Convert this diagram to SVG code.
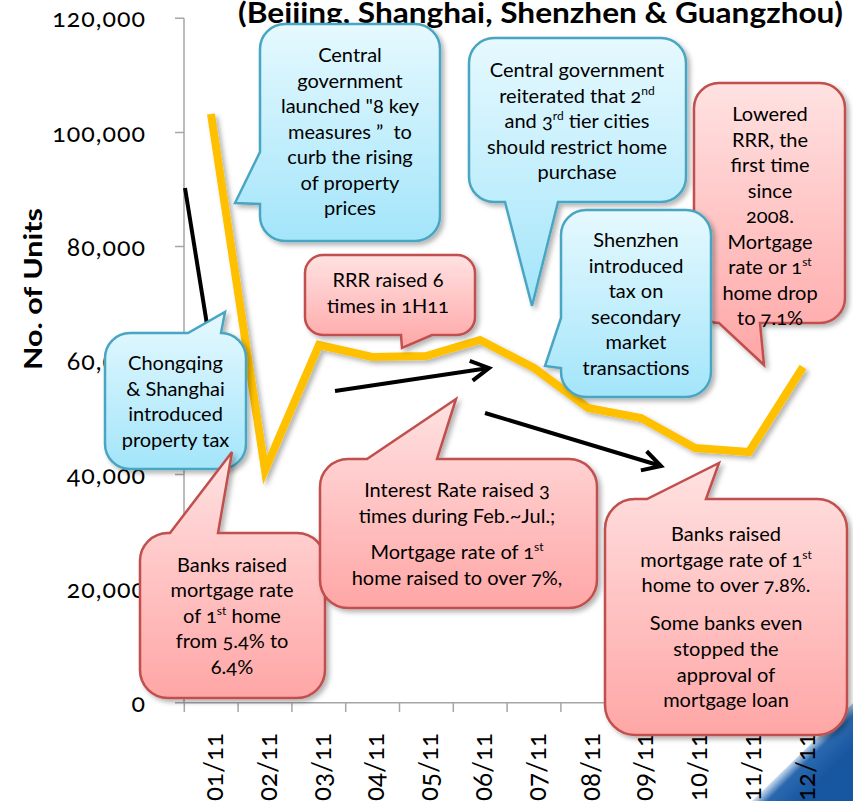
<svg xmlns="http://www.w3.org/2000/svg" width="853" height="801" viewBox="0 0 853 801">
<defs>
<style>
.ax{font-family:Lato,"Open Sans","Liberation Sans",sans-serif;font-size:25px;fill:#000;font-variant-numeric:oldstyle-nums;}
.ay{text-anchor:end;letter-spacing:1px;}
.xl{font-size:26px;}
.co{font-family:Lato,"Open Sans","Liberation Sans",sans-serif;font-size:20px;fill:#000;text-anchor:middle;font-variant-numeric:oldstyle-nums;}
.sup{font-size:12px;}
.blue{fill:url(#gb);stroke:#4AA6C3;stroke-width:2.5;filter:url(#sh);}
.red{fill:url(#gr);stroke:#C0504D;stroke-width:2.5;filter:url(#sh);}
.axis{stroke:#A6A6A6;stroke-width:1.5;fill:none;}
.arrow{stroke:#000;stroke-width:4;fill:none;marker-end:url(#ah);}
</style>
<linearGradient id="gb" x1="0" y1="0" x2="0" y2="1">
<stop offset="0" stop-color="#E6F9FE"/><stop offset="1" stop-color="#A3E5FA"/>
</linearGradient>
<linearGradient id="gr" x1="0" y1="0" x2="0" y2="1">
<stop offset="0" stop-color="#FFE2E2"/><stop offset="1" stop-color="#FFA6A6"/>
</linearGradient>
<linearGradient id="gt" gradientUnits="userSpaceOnUse" x1="802" y1="752" x2="826" y2="776">
<stop offset="0" stop-color="#C9DAEE"/><stop offset="0.3" stop-color="#2A68AE"/><stop offset="1" stop-color="#1756A0"/>
</linearGradient>
<filter id="sh" x="-10%" y="-10%" width="130%" height="130%">
<feDropShadow dx="3" dy="3" stdDeviation="2.5" flood-color="#000" flood-opacity="0.3"/>
</filter>
<marker id="ah" markerUnits="userSpaceOnUse" viewBox="-22 -14 26 28" refX="0" refY="0" markerWidth="26" markerHeight="28" orient="auto">
<path d="M-18,-10 L0,0 L-18,10" fill="none" stroke="#000" stroke-width="4"/>
</marker>
</defs>

<g id="corner">
<polygon points="752,801 853,703 853,801" fill="url(#gt)"/>
</g>

<g id="title">
<text x="238" y="23" font-family="Lato,'Open Sans','Liberation Sans',sans-serif" font-size="28" font-weight="bold" textLength="605" lengthAdjust="spacingAndGlyphs">(Beijing, Shanghai, Shenzhen &amp; Guangzhou)</text>
</g>

<g id="axes">
<path class="axis" d="M184,18.3 V702.7 H830"/>
<path class="axis" d="M175,18.3 H184 M175,132.4 H184 M175,246.5 H184 M175,360.5 H184 M175,474.6 H184 M175,588.7 H184 M175,702.7 H184"/>
<path class="axis" d="M184.3,702.7 V712 M238.1,702.7 V712 M291.9,702.7 V712 M345.7,702.7 V712 M399.5,702.7 V712 M453.3,702.7 V712 M507.1,702.7 V712 M560.9,702.7 V712 M614.7,702.7 V712 M668.5,702.7 V712 M722.3,702.7 V712 M776.1,702.7 V712 M829.9,702.7 V712"/>
<g class="ax ay">
<text x="146" y="27">120,000</text>
<text x="146" y="141.5">100,000</text>
<text x="146" y="255.5">80,000</text>
<text x="146" y="369.5">60,000</text>
<text x="146" y="483.5">40,000</text>
<text x="146" y="597.5">20,000</text>
<text x="146" y="712">0</text>
</g>
<text class="ax" transform="translate(42,289) rotate(-90)" text-anchor="middle" font-weight="bold" font-size="30" textLength="162" lengthAdjust="spacingAndGlyphs">No. of Units</text>
<g class="ax xl" text-anchor="end">
<text transform="translate(223,733) rotate(-90)">01/11</text>
<text transform="translate(276.8,733) rotate(-90)">02/11</text>
<text transform="translate(330.6,733) rotate(-90)">03/11</text>
<text transform="translate(384.4,733) rotate(-90)">04/11</text>
<text transform="translate(438.2,733) rotate(-90)">05/11</text>
<text transform="translate(492,733) rotate(-90)">06/11</text>
<text transform="translate(545.8,733) rotate(-90)">07/11</text>
<text transform="translate(599.6,733) rotate(-90)">08/11</text>
<text transform="translate(653.4,733) rotate(-90)">09/11</text>
<text transform="translate(707.2,733) rotate(-90)">10/11</text>
<text transform="translate(761,733) rotate(-90)">11/11</text>
<text transform="translate(814.8,733) rotate(-90)">12/11</text>
</g>
</g>

<g id="series">
<polyline points="185,188 214,368" fill="none" stroke="#000" stroke-width="4"/>
<polyline points="211,114 265,470 319,345 372,357 426,356 480,340 534,368 588,408 641,418 695,448 749,452 803,367" fill="none" stroke="#FFC000" stroke-width="8" stroke-linejoin="miter" filter="url(#sh)"/>
</g>

<g id="connectors">
<line class="arrow" x1="335" y1="391" x2="489" y2="368"/>
<line class="arrow" x1="485" y1="413" x2="661" y2="466"/>
</g>

<g id="c1">
<path class="blue" d="M285,24 H415 A25,25 0 0 1 440,49 V216 A25,25 0 0 1 415,241 H285 A25,25 0 0 1 260,216 V204 L235,203 L260,152 V49 A25,25 0 0 1 285,24 Z"/>
<text class="co" x="350" y="62">Central</text>
<text class="co" x="350" y="87.5">government</text>
<text class="co" x="350" y="113">launched "8 key</text>
<text class="co" x="350" y="138.5">measures ”&#160; to</text>
<text class="co" x="350" y="164">curb the rising</text>
<text class="co" x="350" y="189.5">of property</text>
<text class="co" x="350" y="215">prices</text>
</g>

<g id="c2">
<path class="blue" d="M494,38 H661 A25,25 0 0 1 686,63 V177 A25,25 0 0 1 661,202 H558 L532,306 L505,202 H494 A25,25 0 0 1 469,177 V63 A25,25 0 0 1 494,38 Z"/>
<text class="co" x="577" y="77">Central government</text>
<text class="co" x="577" y="102.5">reiterated that 2<tspan class="sup" dy="-8">nd</tspan></text>
<text class="co" x="577" y="128">and 3<tspan class="sup" dy="-8">rd</tspan><tspan dy="8"> tier cities</tspan></text>
<text class="co" x="577" y="153.5">should restrict home</text>
<text class="co" x="577" y="179">purchase</text>
</g>

<g id="c3">
<path class="red" d="M719,83 H820 A25,25 0 0 1 845,108 V298 A25,25 0 0 1 820,323 H760 L764,365 L719,323 A25,25 0 0 1 694,298 V108 A25,25 0 0 1 719,83 Z"/>
<text class="co" x="770" y="121">Lowered</text>
<text class="co" x="770" y="146.5">RRR, the</text>
<text class="co" x="770" y="172">first time</text>
<text class="co" x="770" y="197.5">since</text>
<text class="co" x="770" y="223">2008.</text>
<text class="co" x="770" y="248.5">Mortgage</text>
<text class="co" x="770" y="274">rate or 1<tspan class="sup" dy="-8">st</tspan></text>
<text class="co" x="770" y="299.5">home drop</text>
<text class="co" x="770" y="325">to 7.1%</text>
</g>

<g id="c4">
<path class="blue" d="M586,210 H686 A25,25 0 0 1 711,235 V372 A25,25 0 0 1 686,397 H586 A25,25 0 0 1 561,372 V368 L545,366 L561,318 V235 A25,25 0 0 1 586,210 Z"/>
<text class="co" x="636" y="247">Shenzhen</text>
<text class="co" x="636" y="272.5">introduced</text>
<text class="co" x="636" y="298">tax on</text>
<text class="co" x="636" y="323.5">secondary</text>
<text class="co" x="636" y="349">market</text>
<text class="co" x="636" y="374.5">transactions</text>
</g>

<g id="c5">
<path class="red" d="M323,255 H457 A18,18 0 0 1 475,273 V317 A18,18 0 0 1 457,335 H432 L402,348 L401,335 H323 A18,18 0 0 1 305,317 V273 A18,18 0 0 1 323,255 Z"/>
<text class="co" x="388" y="287">RRR raised 6</text>
<text class="co" x="388" y="313">times in 1H11</text>
</g>

<g id="c6">
<path class="blue" d="M130,333 H188 L225,312 L221,333 A25,25 0 0 1 246,358 V444 A25,25 0 0 1 221,469 H130 A25,25 0 0 1 105,444 V358 A25,25 0 0 1 130,333 Z"/>
<text class="co" x="175.5" y="370">Chongqing</text>
<text class="co" x="175.5" y="395.5">&amp; Shanghai</text>
<text class="co" x="175.5" y="421">introduced</text>
<text class="co" x="175.5" y="446.5">property tax</text>
</g>

<g id="c8">
<path class="red" d="M168,533 H170 L232,452 L218,533 H297 A28,28 0 0 1 325,561 V670 A28,28 0 0 1 297,698 H168 A28,28 0 0 1 140,670 V561 A28,28 0 0 1 168,533 Z"/>
<text class="co" x="232" y="572">Banks raised</text>
<text class="co" x="232" y="597">mortgage rate</text>
<text class="co" x="232" y="622.5">of 1<tspan class="sup" dy="-8">st</tspan><tspan dy="8"> home</tspan></text>
<text class="co" x="232" y="648">from 5.4% to</text>
<text class="co" x="232" y="673.5">6.4%</text>
</g>

<g id="c7">
<path class="red" d="M348,459 H367 L456,399 L437,459 H569 A28,28 0 0 1 597,487 V580 A28,28 0 0 1 569,608 H348 A28,28 0 0 1 320,580 V487 A28,28 0 0 1 348,459 Z"/>
<text class="co" x="457" y="497">Interest Rate raised 3</text>
<text class="co" x="457" y="522.5">times during Feb.~Jul.;</text>
<text class="co" x="457" y="559">Mortgage rate of 1<tspan class="sup" dy="-8">st</tspan></text>
<text class="co" x="457" y="584.5">home raised to over 7%,</text>
</g>

<g id="c9">
<path class="red" d="M635,499 H647 L719,463 L706,499 H817 A30,30 0 0 1 847,529 V705 A30,30 0 0 1 817,735 H635 A30,30 0 0 1 605,705 V529 A30,30 0 0 1 635,499 Z"/>
<text class="co" x="726" y="541">Banks raised</text>
<text class="co" x="726" y="566.5">mortgage rate of 1<tspan class="sup" dy="-8">st</tspan></text>
<text class="co" x="726" y="592">home to over 7.8%.</text>
<text class="co" x="726" y="630">Some banks even</text>
<text class="co" x="726" y="656">stopped the</text>
<text class="co" x="726" y="681.5">approval of</text>
<text class="co" x="726" y="707">mortgage loan</text>
</g>
</svg>
